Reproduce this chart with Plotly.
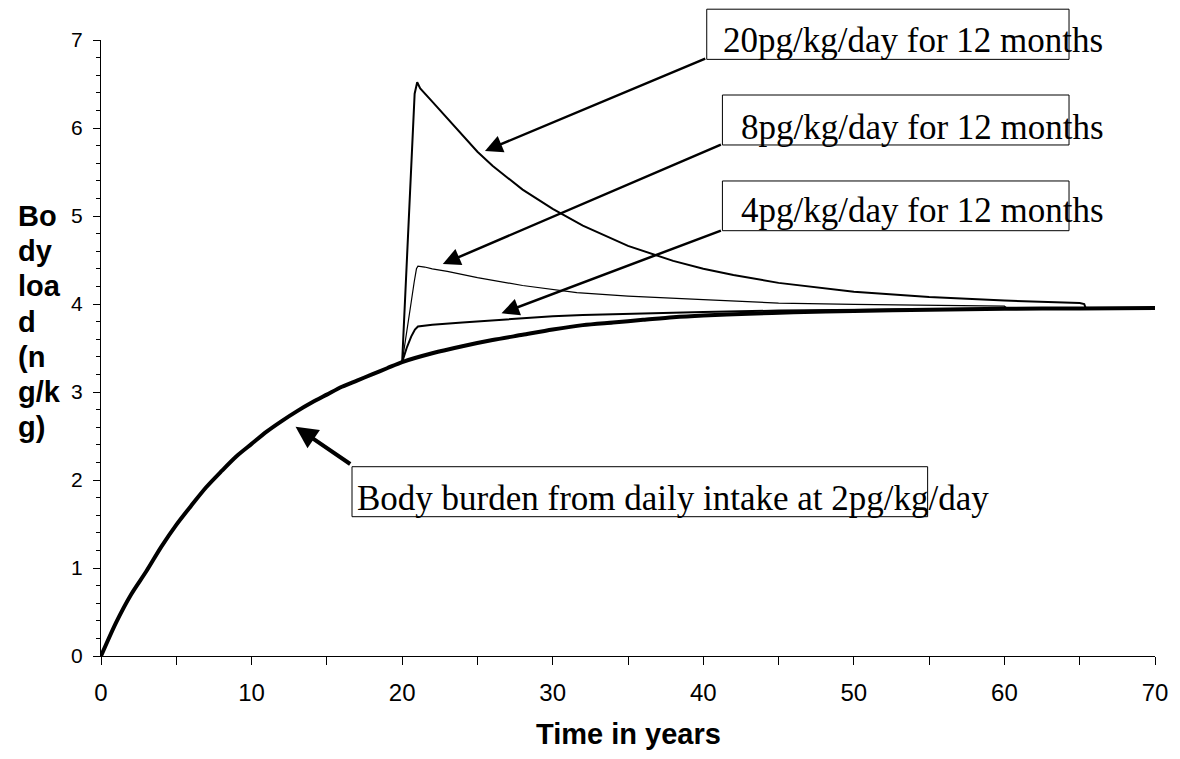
import plotly.graph_objects as go

# ---------------- data ----------------
base_t = [0, 1, 2, 3, 4, 5, 6, 7, 8, 9, 10, 11, 12, 13, 14, 15, 16, 17, 18, 19, 20,
          22, 24, 26, 28, 30, 32, 34, 36, 38, 40, 43, 46, 50, 55, 60, 65, 70]
base_y = [0, 0.38, 0.70, 0.96, 1.24, 1.49, 1.71, 1.92, 2.10, 2.27, 2.41, 2.55, 2.67, 2.78,
          2.88, 2.97, 3.06, 3.13, 3.20, 3.27, 3.34, 3.44, 3.52, 3.59, 3.65, 3.71, 3.76,
          3.79, 3.82, 3.85, 3.87, 3.89, 3.905, 3.92, 3.935, 3.945, 3.95, 3.955]

p20_t = [20, 20.15, 20.34, 20.6, 20.83, 21.0, 21.2, 22, 23, 24, 25, 26, 28, 30, 32, 35,
         38, 40, 42, 45, 50, 55, 60, 65, 65.3, 65.4, 70]
p20_y = [3.34, 3.9, 4.5, 5.64, 6.39, 6.52, 6.45, 6.30, 6.11, 5.92, 5.73, 5.57, 5.30, 5.08,
         4.89, 4.66, 4.49, 4.40, 4.33, 4.24, 4.14, 4.08, 4.04, 4.01, 4.0, 3.95, 3.955]

p8_t = [20, 20.2, 20.4, 20.6, 20.8, 20.95, 21.05, 21.5, 22, 23, 25, 28, 31.6, 35, 40, 45,
        50, 55, 60, 60.2, 70]
p8_y = [3.34, 3.55, 3.80, 4.02, 4.25, 4.40, 4.43, 4.42, 4.40, 4.37, 4.30, 4.21, 4.13, 4.09,
        4.05, 4.01, 3.995, 3.985, 3.975, 3.95, 3.955]

p4_t = [20, 20.3, 20.6, 20.85, 21.05, 22, 24, 26, 28, 30, 32, 35, 40, 45, 50, 55, 60, 65, 70]
p4_y = [3.34, 3.50, 3.63, 3.71, 3.745, 3.765, 3.79, 3.815, 3.84, 3.86, 3.875, 3.89, 3.91,
        3.925, 3.935, 3.94, 3.948, 3.952, 3.955]

x_ticks = [0, 10, 20, 30, 40, 50, 60, 70]
y_ticks = [0, 1, 2, 3, 4, 5, 6, 7]

labels = ["20pg/kg/day for 12 months", "8pg/kg/day for 12 months",
          "4pg/kg/day for 12 months", "Body burden from daily intake at 2pg/kg/day"]
y_title_lines = ["Bo", "dy", "loa", "d", "(n", "g/k", "g)"]
x_title = "Time in years"

# ---------------- layout constants ----------------
XMAX, YMAX = 70.0, 7.0
SERIF = "Liberation Serif, Times New Roman, serif"
SANS = "Liberation Sans, Arial, sans-serif"
PAGE_OFFSET = 8  # default body margin of the html page

# callout boxes in data units: (x0, x1, y0, y1), text anchor (x, y), arrow tip, arrow tail
boxes = [
    dict(box=(40.23, 64.29, 6.78, 7.35), txt=(41.16, 6.995), tip=(25.5, 5.74), tail=(40.23, 6.795), w=2.5, s=1.4),
    dict(box=(41.27, 64.29, 5.807, 6.375), txt=(42.34, 6.011), tip=(22.7, 4.455), tail=(41.27, 5.818), w=2.5, s=1.4),
    dict(box=(41.27, 64.29, 4.833, 5.398), txt=(42.34, 5.064), tip=(26.6, 3.894), tail=(41.27, 4.841), w=2.5, s=1.4),
    dict(box=(16.67, 54.9, 1.583, 2.151), txt=(16.90, 1.7875), tip=(12.92, 2.606), tail=(16.65, 2.17), w=4, s=1.1),
]

fig = go.Figure()
fig.add_trace(go.Scatter(x=p20_t, y=p20_y, mode="lines", line=dict(color="black", width=2)))
fig.add_trace(go.Scatter(x=p8_t, y=p8_y, mode="lines", line=dict(color="black", width=1.2)))
fig.add_trace(go.Scatter(x=p4_t, y=p4_y, mode="lines", line=dict(color="black", width=2)))
fig.add_trace(go.Scatter(x=base_t, y=base_y, mode="lines",
                         line=dict(color="black", width=4, shape="spline", smoothing=0.8)))

shapes = []
annotations = []
for lab, b in zip(labels, boxes):
    x0, x1, y0, y1 = b["box"]
    shapes.append(dict(type="rect", xref="paper", yref="paper",
                       x0=x0 / XMAX, x1=x1 / XMAX, y0=y0 / YMAX, y1=y1 / YMAX,
                       line=dict(color="black", width=1), fillcolor="rgba(0,0,0,0)", layer="above"))
    annotations.append(dict(text=lab, xref="paper", yref="paper", x=b["txt"][0] / XMAX,
                            y=b["txt"][1] / YMAX, xanchor="left", yanchor="middle",
                            showarrow=False, font=dict(family=SERIF, size=35, color="black")))
    annotations.append(dict(text="", x=b["tip"][0], y=b["tip"][1], xref="x", yref="y",
                            ax=b["tail"][0], ay=b["tail"][1], axref="x", ayref="y",
                            showarrow=True, arrowhead=2, arrowsize=b["s"], arrowwidth=b["w"],
                            arrowcolor="black", standoff=0))

# y-axis title, one line per row
for i, part in enumerate(y_title_lines):
    annotations.append(dict(text="<b>%s</b>" % part, xref="paper", yref="paper",
                            x=-0.0808, y=(5.0 - 0.4 * i) / YMAX, xanchor="left", yanchor="middle",
                            showarrow=False, font=dict(family=SANS, size=29, color="black")))
annotations.append(dict(text="<b>%s</b>" % x_title, xref="paper", yref="paper", x=0.5,
                        y=-0.1266, xanchor="center", yanchor="middle", showarrow=False,
                        font=dict(family=SANS, size=29, color="black")))

# figure sized so the page (with its 8px body margin) does not overflow the window
W, H = 1172, 743
plot_left, plot_right, plot_top, plot_bottom = 100.7, 1162.5, 40, 656
fig.update_layout(
    width=W, height=H, autosize=False,
    margin=dict(l=plot_left - PAGE_OFFSET, r=W + PAGE_OFFSET - plot_right,
                t=plot_top - PAGE_OFFSET, b=H + PAGE_OFFSET - plot_bottom, pad=0),
    paper_bgcolor="white", plot_bgcolor="white",
    showlegend=False, shapes=shapes, annotations=annotations,
    xaxis=dict(range=[0, XMAX], tickvals=x_ticks, ticktext=[str(v) for v in x_ticks],
               automargin=True,
               ticks="outside", ticklen=8, tickwidth=1, tickcolor="black",
               showline=True, linecolor="black", linewidth=1.3, showgrid=False, zeroline=False,
               tickfont=dict(family=SANS, size=24, color="black"), ticklabelstandoff=7,
               minor=dict(dtick=5, tick0=0, ticks="outside", ticklen=8, tickcolor="black", showgrid=False)),
    yaxis=dict(range=[0, YMAX], tickvals=y_ticks, ticktext=[str(v) for v in y_ticks],
               automargin=False,
               ticks="outside", ticklen=7, tickwidth=1, tickcolor="black",
               showline=True, linecolor="black", linewidth=1.3, showgrid=False, zeroline=False,
               tickfont=dict(family=SANS, size=21, color="black"), ticklabelstandoff=6,
               minor=dict(dtick=0.2, tick0=0, ticks="outside", ticklen=4, tickcolor="black", showgrid=False)),
)

fig.write_html("out.html")
